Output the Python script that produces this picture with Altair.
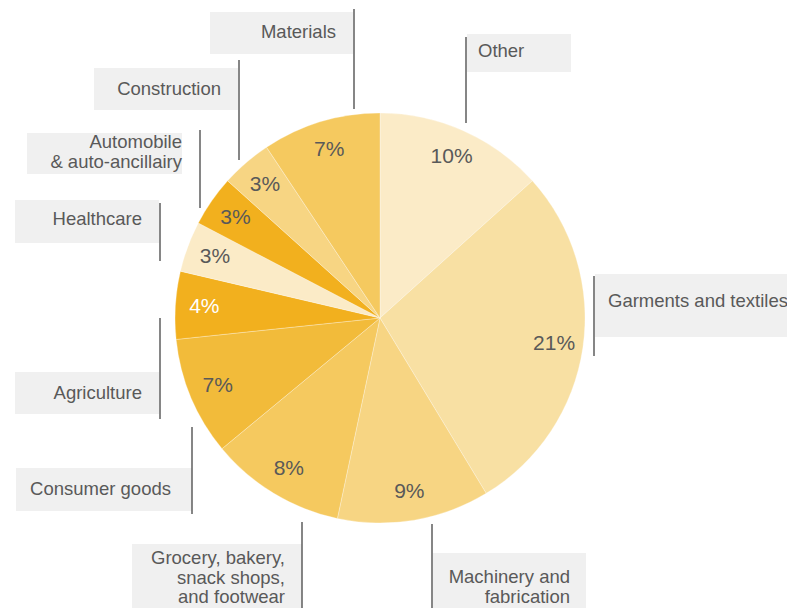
import altair as alt
import pandas as pd

# ---- data (clockwise from 12 o'clock) ----
categories = [
    "Other", "Garments and textiles", "Machinery and fabrication",
    "Grocery, bakery, snack shops, and footwear", "Consumer goods",
    "Agriculture", "Healthcare", "Automobile & auto-ancillairy",
    "Construction", "Materials",
]
values = [10, 21, 9, 8, 7, 4, 3, 3, 3, 7]
pct_labels = ["10%", "21%", "9%", "8%", "7%", "4%", "3%", "3%", "3%", "7%"]
label_texts = [
    "Other", "Garments and textiles", "Machinery and\nfabrication",
    "Grocery, bakery,\nsnack shops,\nand footwear", "Consumer goods",
    "Agriculture", "Healthcare", "Automobile\n& auto-ancillairy",
    "Construction", "Materials",
]

# ---- styles ----
slice_colors = ["#FBEBC7", "#F8E0A3", "#F7D583", "#F5C95F", "#F2BB3A",
                "#F2B01E", "#FBEBC7", "#F2B01E", "#F7D583", "#F5C95F"]
FONT = "Liberation Sans"
TEXT_GRAY = "#595959"
BOX_FILL = "#F0F0F0"
LINE_GRAY = "#5E5E5E"

# ---- layout (page pixel coordinates, page margin 8px) ----
M = 8
W, H = 779, 600
CX, CY, R = 380 - M, 317 - M, 205
# box x0,y0,x1,y1 | leader line x,y0,y1 | first-line text x,y,align
layout = {
    "Other": ((467, 33, 571, 71), (466, 36, 122), (478, 50, "left")),
    "Garments and textiles": ((595, 273, 800, 336), (594, 275, 355), (608, 300, "left")),
    "Machinery and fabrication": ((433, 552, 586, 620), (432, 523, 620), (570, 576, "right")),
    "Grocery, bakery, snack shops, and footwear": ((132, 543, 302, 613), (302, 521, 612), (285, 557, "right")),
    "Consumer goods": ((16, 467, 192, 510), (192, 426, 513), (171, 488, "right")),
    "Agriculture": ((15, 371, 159, 413), (160, 317, 418), (142, 392, "right")),
    "Healthcare": ((15, 199, 159, 242), (160, 202, 260), (142, 218, "right")),
    "Automobile & auto-ancillairy": ((27, 132, 182, 173), (200, 129, 207), (182, 141, "right")),
    "Construction": ((94, 67, 238, 109), (239, 59, 159), (221, 88, "right")),
    "Materials": ((210, 11, 353, 53), (354, 8, 108), (336, 31, "right")),
}

pie_df = pd.DataFrame({
    "category": categories,
    "value": values,
    "order": list(range(len(categories))),
    "pct": pct_labels,
})

rows = []
for cat, txt in zip(categories, label_texts):
    (bx0, by0, bx1, by1), (lx, ly0, ly1), (tx, ty, al) = layout[cat]
    rows.append({
        "category": cat, "text": txt,
        "bx0": bx0 - M, "by0": by0 - M, "bx1": bx1 - M, "by1": by1 - M,
        "lx": lx - M, "ly0": ly0 - M, "ly1": ly1 - M,
        "tx": tx - M, "ty": ty - M, "align": al,
    })
lab_df = pd.DataFrame(rows)

base = alt.Chart(pie_df).encode(
    theta=alt.Theta("value:Q", stack=True),
    order=alt.Order("order:Q"),
    x=alt.value(CX),
    y=alt.value(CY),
)

arcs = base.mark_arc(radius=R, stroke="white", strokeWidth=0.3).encode(
    color=alt.Color("category:N",
                    scale=alt.Scale(domain=categories, range=slice_colors),
                    legend=None)
)

pcts = base.mark_text(radius=176, fontSize=21, font=FONT).encode(
    text="pct:N",
    color=alt.condition(alt.datum.category == "Agriculture",
                        alt.value("white"), alt.value(TEXT_GRAY)),
)

lab = alt.Chart(lab_df)
boxes = lab.mark_rect(color=BOX_FILL).encode(
    x=alt.X("bx0:Q", scale=None, axis=None), x2="bx1:Q",
    y=alt.Y("by0:Q", scale=None, axis=None), y2="by1:Q",
)
leaders = lab.mark_rule(color=LINE_GRAY, strokeWidth=1.5).encode(
    x=alt.X("lx:Q", scale=None, axis=None),
    y=alt.Y("ly0:Q", scale=None, axis=None), y2="ly1:Q",
)
txt_kw = dict(fontSize=18.5, font=FONT, color=TEXT_GRAY, baseline="middle",
              lineBreak="\n", lineHeight=19.5)
texts_right = lab.transform_filter(alt.datum.align == "right").mark_text(
    align="right", **txt_kw).encode(
    x=alt.X("tx:Q", scale=None, axis=None),
    y=alt.Y("ty:Q", scale=None, axis=None),
    text="text:N",
)
texts_left = lab.transform_filter(alt.datum.align == "left").mark_text(
    align="left", **txt_kw).encode(
    x=alt.X("tx:Q", scale=None, axis=None),
    y=alt.Y("ty:Q", scale=None, axis=None),
    text="text:N",
)

chart = alt.layer(arcs, pcts, boxes, leaders, texts_right, texts_left).properties(
    width=W, height=H, padding=0,
    autosize=alt.AutoSizeParams(type="fit", contains="padding"),
    background="white",
).configure_view(stroke=None)

chart.save("out.html", embed_options={"renderer": "svg", "actions": False})
